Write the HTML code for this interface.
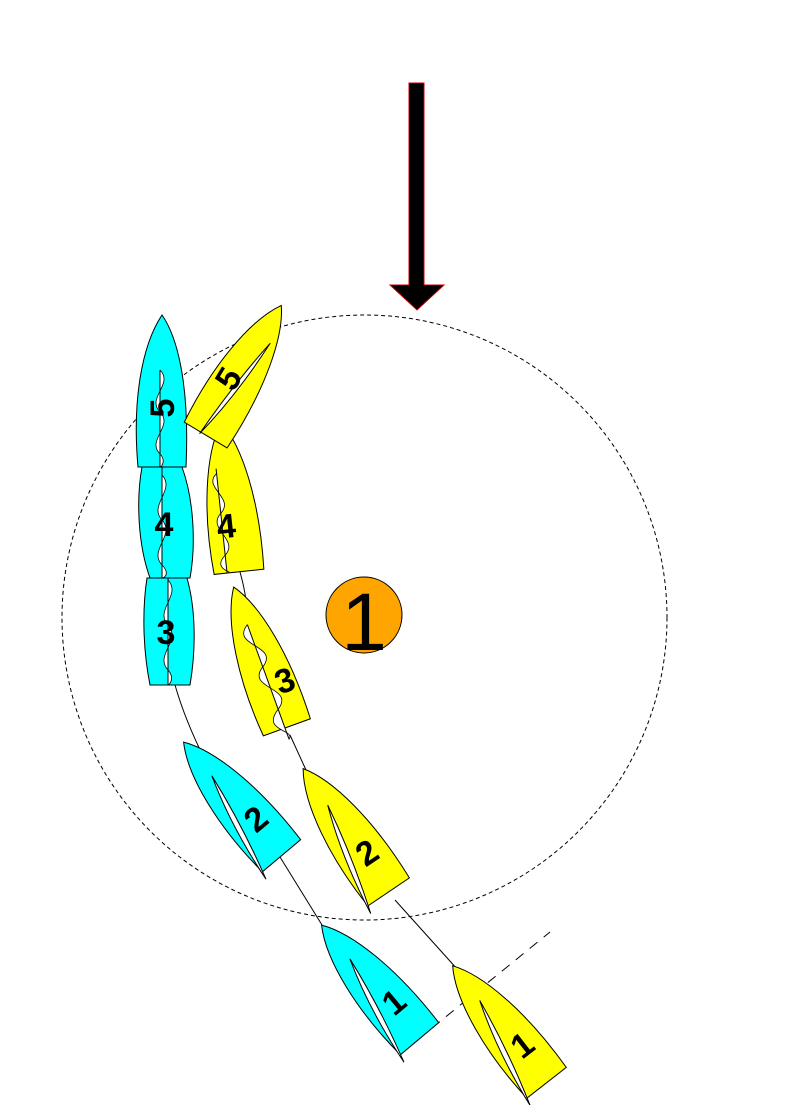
<!DOCTYPE html>
<html><head><style>html,body{margin:0;padding:0;background:#fff}svg{display:block}</style></head>
<body>
<svg width="794" height="1105" viewBox="0 0 794 1105" xmlns="http://www.w3.org/2000/svg">
<defs>
<path id="hull" d="M0,-150 C18,-125 30,-70 27,0 L-23,0 C-28,-60 -20,-120 0,-150 Z"/>
</defs>
<circle cx="364.5" cy="617.5" r="302.5" fill="none" stroke="#000" stroke-width="1" stroke-dasharray="4,3"/>
<g fill="none" stroke="#000" stroke-width="1">
<path d="M175,685 Q185,720 205,760"/>
<path d="M280,857 L322,925"/>
<path d="M240,572 Q244,586 246,600"/>
<path d="M290,735 L306,770"/>
<path d="M395,900 L458,970"/>
</g>
<path d="M432,1028 L550,932" stroke="#000" stroke-width="1" stroke-dasharray="10,8" fill="none"/>

<path d="M409,83 L424,83 L424,285 L444,285 L417,310 L390,285 L409,285 Z" fill="#000" stroke="#c00" stroke-width="1"/>

<g font-family="Liberation Sans, sans-serif" font-size="34" font-weight="bold" stroke="#000" stroke-width="1" text-anchor="middle">
<g transform="translate(418,1040) rotate(-40)">
<use href="#hull" fill="#00ffff"/>
<path d="M0,-106 Q-8,-50 -25,8 Q-18,-55 0,-106 Z" fill="#fff"/>
<text x="6" y="-33" stroke="none">1</text>
</g>
<g transform="translate(545,1084) rotate(-38)">
<use href="#hull" fill="#ffff00"/>
<path d="M0,-106 Q-8,-50 -25,8 Q-18,-55 0,-106 Z" fill="#fff"/>
<text x="6" y="-33" stroke="none">1</text>
</g>
<g transform="translate(280,857) rotate(-40)">
<use href="#hull" fill="#00ffff"/>
<path d="M0,-106 Q-8,-50 -25,8 Q-18,-55 0,-106 Z" fill="#fff"/>
<text x="6" y="-33" stroke="none">2</text>
</g>
<g transform="translate(387,893) rotate(-34)">
<use href="#hull" fill="#ffff00"/>
<path d="M0,-106 Q-8,-50 -25,8 Q-18,-55 0,-106 Z" fill="#fff"/>
<text x="6" y="-33" stroke="none">2</text>
</g>
<g transform="translate(285,728) rotate(-20)">
<use href="#hull" fill="#ffff00"/>
<path d="M0,-110 C-24,-95 24,-80 0,-65 C-24,-50 24,-35 0,-20 C-24,-5 10,5 0,12" fill="#fff" stroke-width="0.8"/>
<line x1="0" y1="-110" x2="0" y2="12"/>
<text x="16" y="-33" stroke="none">3</text>
</g>
<!-- cyan 3 -->
<path d="M147,578 L187,578 C196,610 196,650 190,685 L150,685 C143,650 142,610 147,578 Z" fill="#00ffff"/>
<path d="M168,580 C182,595 154,610 168,625 C182,640 154,655 168,670 C175,678 170,684 168,685" fill="#fff" stroke-width="0.8"/>
<line x1="168" y1="578" x2="168" y2="685"/>
<text x="166" y="644" stroke="none">3</text>
<!-- cyan 4 -->
<path d="M142,467 L182,467 C194,500 196,545 190,578 L150,578 C138,545 136,500 142,467 Z" fill="#00ffff"/>
<path d="M162,475 C176,490 148,505 162,520 C176,535 148,550 162,565 C170,573 165,578 162,578" fill="#fff" stroke-width="0.8"/>
<line x1="162" y1="467" x2="162" y2="578"/>
<text x="164" y="536" stroke="none">4</text>
<!-- yellow 4 -->
<g transform="translate(237,572) rotate(-6)">
<use href="#hull" fill="#ffff00"/>
<path d="M-10,-100 C-26,-88 6,-74 -10,-60 C-26,-46 6,-32 -10,-18 C-26,-4 0,0 -10,0" fill="#fff" stroke-width="0.8"/>
<line x1="-10" y1="-105" x2="-10" y2="0"/>
<text x="-6" y="-35" stroke="none">4</text>
</g>
<!-- cyan 5 -->
<path d="M162,315 C176,335 190,380 186,467 L138,467 C132,400 142,345 162,315 Z" fill="#00ffff"/>
<path d="M160,370 C174,384 146,398 160,412 C174,426 146,440 160,454 C166,460 162,467 160,467" fill="#fff" stroke-width="0.8"/>
<line x1="160" y1="370" x2="160" y2="467"/>
<text x="162" y="420" stroke="none" transform="rotate(-90,162,408)">5</text>
<!-- yellow 5 -->
<g transform="translate(204,434) rotate(31)">
<use href="#hull" fill="#ffff00"/>
<path d="M10,-112 Q8,-50 -4,2 Q0,-60 10,-112 Z" fill="#fff"/>
<text x="-8" y="-48" stroke="none" transform="rotate(-90,-8,-60)">5</text>
</g>
</g>

<circle cx="364" cy="615" r="38" fill="#ffa500" stroke="#000" stroke-width="1"/>
<text x="364" y="650" font-family="Liberation Sans, sans-serif" font-size="82" text-anchor="middle" fill="#000">1</text>
</svg>
</body></html>
